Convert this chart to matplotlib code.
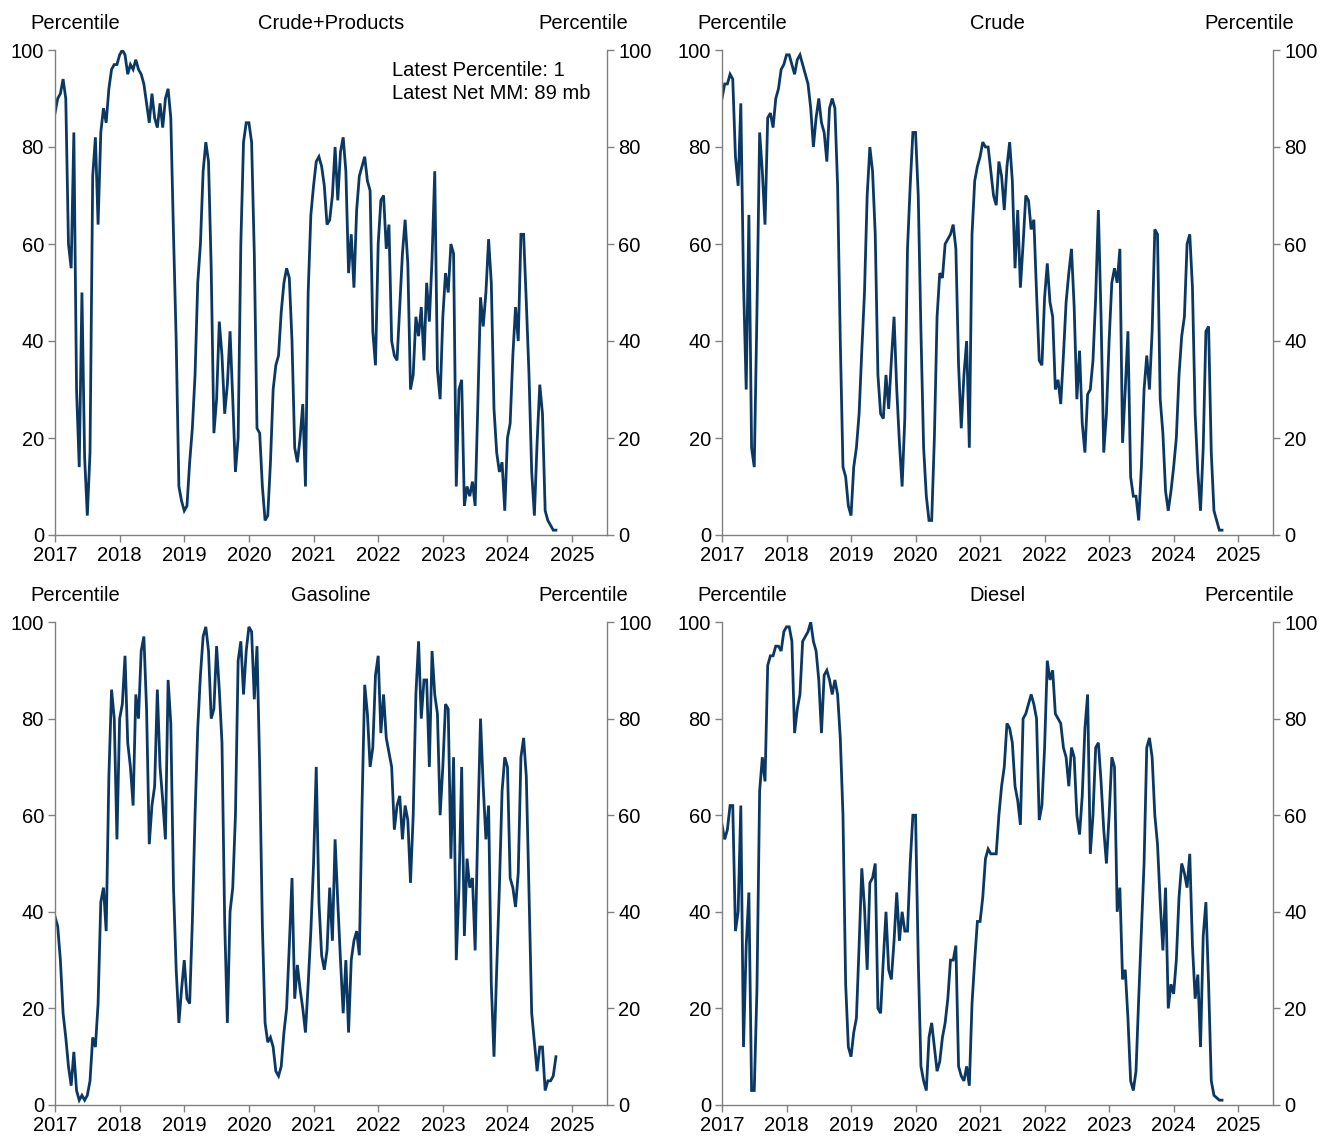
import numpy as np
import matplotlib
matplotlib.use("Agg")
import matplotlib.pyplot as plt

plt.rcParams["font.family"] = ["Liberation Sans", "DejaVu Sans"]

# semi-monthly percentile readings, starting Jan 2017
START_YEAR = 2017
PER_YEAR = 24

crude_products = [
    87, 90, 91, 94, 90, 60, 55, 83, 30, 14, 50, 16, 4, 17, 74, 82, 64, 83, 88, 85, 92, 96, 97, 97,
    99, 100, 99, 95, 97, 96, 98, 96, 95, 93, 89, 85, 91, 86, 84, 89, 84, 90, 92, 86, 62, 40, 10, 7,
    5, 6, 15, 22, 33, 52, 60, 75, 81, 77, 55, 21, 28, 44, 37, 25, 31, 42, 28, 13, 20, 60, 81, 85,
    85, 81, 58, 22, 21, 10, 3, 4, 15, 30, 35, 37, 46, 52, 55, 53, 40, 18, 15, 20, 27, 10, 50, 66,
    72, 77, 78, 76, 72, 64, 65, 70, 80, 69, 79, 82, 75, 54, 62, 51, 67, 74, 76, 78, 73, 71, 42, 35,
    60, 69, 70, 59, 64, 40, 37, 36, 47, 58, 65, 56, 30, 33, 45, 41, 47, 36, 52, 44, 57, 75, 34, 28,
    45, 54, 50, 60, 58, 10, 30, 32, 6, 10, 8, 11, 6, 27, 49, 43, 50, 61, 52, 26, 17, 13, 15, 5,
    20, 23, 37, 47, 40, 62, 62, 48, 33, 13, 4, 19, 31, 25, 5, 3, 2, 1, 1,
]

crude = [
    90, 93, 93, 95, 94, 78, 72, 89, 52, 30, 66, 18, 14, 46, 83, 75, 64, 86, 87, 84, 90, 92, 96, 97,
    99, 99, 97, 95, 98, 99, 97, 95, 93, 88, 80, 86, 90, 85, 83, 77, 88, 90, 88, 72, 40, 14, 12, 6,
    4, 14, 18, 25, 38, 50, 70, 80, 75, 62, 33, 25, 24, 33, 26, 36, 45, 30, 19, 10, 24, 59, 72, 83,
    83, 70, 42, 18, 8, 3, 3, 20, 45, 54, 53, 60, 61, 62, 64, 59, 35, 22, 33, 40, 18, 62, 73, 76,
    78, 81, 80, 80, 75, 70, 68, 77, 74, 67, 76, 81, 73, 55, 67, 51, 60, 70, 69, 63, 65, 50, 36, 35,
    49, 56, 48, 45, 30, 32, 27, 37, 48, 54, 59, 47, 28, 38, 23, 17, 29, 30, 36, 49, 67, 45, 17, 25,
    40, 52, 55, 52, 59, 19, 30, 42, 12, 8, 8, 3, 14, 30, 37, 30, 42, 63, 62, 28, 21, 9, 5, 9,
    14, 20, 33, 41, 45, 60, 62, 51, 25, 13, 5, 18, 42, 43, 17, 5, 3, 1, 1,
]

gasoline = [
    39, 37, 30, 19, 14, 8, 4, 11, 3, 1, 2, 1, 2, 5, 14, 12, 21, 42, 45, 36, 68, 86, 80, 55,
    80, 83, 93, 75, 70, 62, 85, 80, 94, 97, 82, 54, 62, 66, 86, 70, 63, 55, 88, 79, 45, 28, 17, 24,
    30, 22, 21, 38, 60, 78, 89, 97, 99, 94, 80, 82, 95, 86, 75, 38, 17, 40, 45, 60, 92, 96, 85, 94,
    99, 98, 84, 95, 70, 37, 17, 13, 14, 12, 7, 6, 8, 15, 20, 33, 47, 22, 29, 24, 20, 15, 25, 36,
    50, 70, 42, 31, 28, 32, 45, 34, 55, 42, 30, 19, 30, 15, 30, 34, 36, 31, 62, 87, 81, 70, 74, 89,
    93, 77, 85, 76, 73, 70, 57, 62, 64, 55, 62, 59, 46, 60, 85, 96, 80, 88, 88, 70, 94, 85, 81, 60,
    70, 83, 82, 51, 72, 30, 45, 70, 35, 51, 45, 47, 32, 58, 80, 66, 55, 62, 25, 10, 28, 45, 65, 72,
    70, 47, 45, 41, 48, 72, 76, 68, 44, 19, 13, 7, 12, 12, 3, 5, 5, 6, 10,
]

diesel = [
    58, 55, 57, 62, 62, 36, 40, 62, 12, 33, 44, 3, 3, 24, 65, 72, 67, 91, 93, 93, 95, 95, 94, 98,
    99, 99, 96, 77, 82, 85, 96, 97, 98, 100, 96, 94, 88, 77, 89, 90, 88, 85, 88, 85, 76, 60, 25, 12,
    10, 15, 18, 33, 49, 41, 28, 46, 47, 50, 20, 19, 30, 40, 28, 26, 34, 44, 34, 40, 36, 36, 50, 60,
    60, 30, 8, 5, 3, 14, 17, 12, 7, 9, 14, 17, 22, 30, 30, 33, 8, 6, 5, 8, 4, 21, 30, 38,
    38, 43, 51, 53, 52, 52, 52, 60, 66, 70, 79, 78, 75, 66, 63, 58, 80, 81, 83, 85, 83, 80, 59, 62,
    74, 92, 88, 90, 81, 80, 79, 74, 72, 66, 74, 72, 60, 56, 64, 78, 85, 52, 60, 74, 75, 67, 57, 50,
    60, 72, 70, 40, 45, 26, 28, 18, 5, 3, 7, 22, 36, 50, 74, 76, 72, 60, 54, 42, 32, 45, 20, 25,
    23, 30, 43, 50, 48, 45, 52, 33, 22, 27, 12, 35, 42, 25, 5, 2, 1.5, 1, 1,
]

titles = ["Crude+Products", "Crude", "Gasoline", "Diesel"]
series = [crude_products, crude, gasoline, diesel]
year_ticks = list(range(2017, 2026))
y_ticks = [0, 20, 40, 60, 80, 100]
note_lines = ["Latest Percentile: 1", "Latest Net MM: 89 mb"]

LINE = "#0b3862"
SPINE = "#808080"
FS = 14.5
W, H = 1323, 1138

fig = plt.figure(figsize=(W / 100, H / 100), dpi=100)

# axes boxes in pixels: left, top, right, bottom
boxes = [(55, 50, 607, 535), (722, 50, 1273, 535),
         (55, 622, 607, 1105), (722, 622, 1273, 1105)]

for (l, t, r, b), title, vals in zip(boxes, titles, series):
    ax = fig.add_axes([l / W, 1 - b / H, (r - l) / W, (b - t) / H])
    x = START_YEAR + np.arange(len(vals)) / PER_YEAR
    ax.plot(x, vals, color=LINE, lw=2.0, solid_joinstyle="miter")

    ax.set_xlim(2017, 2025.54)
    ax.set_ylim(0, 100)
    ax.set_xticks(year_ticks)
    ax.set_xticklabels([str(y) for y in year_ticks])
    ax.set_yticks(y_ticks)

    ax.spines["top"].set_visible(False)
    for side in ("left", "right", "bottom"):
        ax.spines[side].set_color(SPINE)
        ax.spines[side].set_linewidth(1.0)
    ax.tick_params(axis="both", colors=SPINE, labelcolor="black",
                   labelsize=FS, length=5, width=1, pad=3)
    ax.tick_params(axis="y", right=True, labelright=True)

    ax.text(-0.045, 1.054, "Percentile", transform=ax.transAxes,
            ha="left", va="center", fontsize=FS)
    ax.text(0.5, 1.054, title, transform=ax.transAxes,
            ha="center", va="center", fontsize=FS)
    ax.text(1.038, 1.054, "Percentile", transform=ax.transAxes,
            ha="right", va="center", fontsize=FS)

    if title == "Crude+Products":
        ax.text(0.611, 0.977, "\n".join(note_lines), transform=ax.transAxes,
                ha="left", va="top", fontsize=FS, linespacing=1.25)

fig.savefig("out.png", dpi=100)
